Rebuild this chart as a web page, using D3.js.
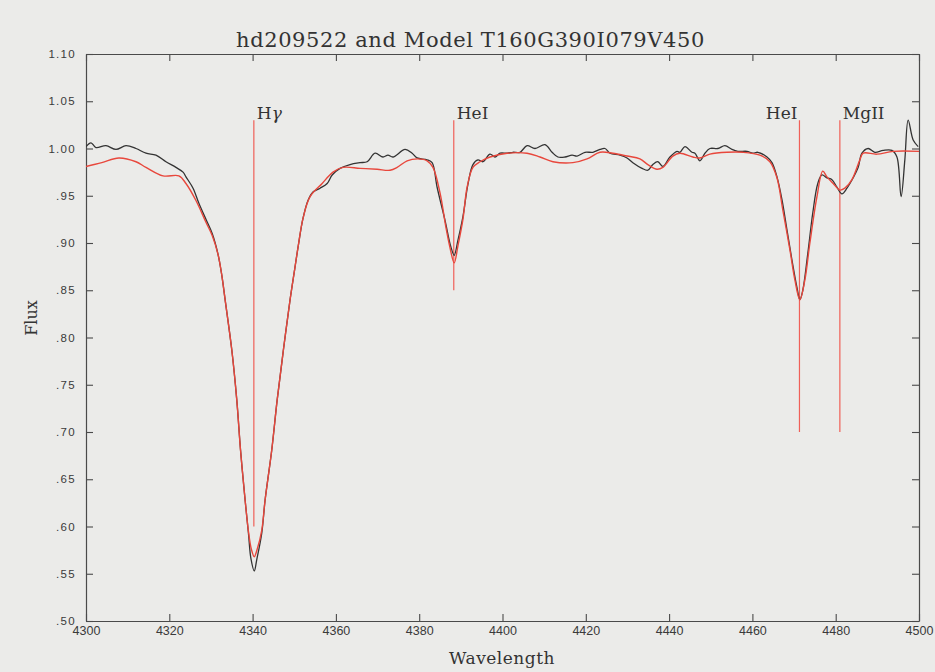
<!DOCTYPE html>
<html>
<head>
<meta charset="utf-8">
<script src="https://cdn.jsdelivr.net/npm/d3@7"></script>
<style>
  html, body { margin: 0; padding: 0; background: #ebebe9; }
  svg { display: block; }
</style>
</head>
<body>
<svg id="chart" width="935" height="672"></svg>
<script>
// Observed spectrum of hd209522: wavelength (Å) and normalised flux
const obsWave = [4300.0,4301.2,4302.4,4304.8,4307.2,4309.6,4312.0,4314.4,4316.8,4319.2,4321.6,4323.3,4324.0,4325.7,4327.1,
  4328.8,4330.3,4331.7,4332.6,4333.4,4335.0,4336.2,4337.1,4338.2,4339.0,4339.6,4340.4,4341.0,4342.2,4343.0,4344.6,4345.9,4347.4,4349.0,4350.1,4351.0,4352.1,
  4353.3,4354.5,4356.2,4357.9,4359.1,4361.0,4363.4,4365.8,4367.5,4369.4,4371.3,4372.5,4373.7,4376.6,4378.3,4379.5,4381.9,4383.1,
  4384.3,4386.2,4387.6,4388.4,4389.3,4390.5,4391.7,4392.9,4394.1,4395.3,4397.0,4398.2,4399.4,4401.1,4402.5,4404.2,4405.9,4407.8,
  4410.2,4411.9,4413.3,4415.0,4416.7,4417.9,4419.8,4421.7,4423.4,4424.6,4425.8,4428.2,4429.9,4431.3,4433.5,4434.9,4436.1,4437.3,
  4438.5,4440.2,4441.9,4442.6,4443.8,4445.5,4446.2,4447.4,4448.6,4449.8,4451.7,4453.4,4455.1,4456.5,4458.7,4460.1,4461.3,4463.5,
  4464.7,4465.9,4467.1,4468.3,4469.5,4470.7,4471.4,4472.1,4473.3,4474.5,4475.7,4476.7,4477.9,4479.1,4480.3,4481.5,4482.7,4484.2,
  4485.4,4486.3,4487.8,4489.4,4491.4,4493.5,4494.7,4495.7,4496.6,4497.4,4498.6,4499.8];
const obsFlux = [1.002,1.006,1.001,1.003,0.999,1.003,1.000,0.995,0.993,0.986,0.980,0.975,0.970,0.958,0.942,
  0.925,0.910,0.888,0.866,0.840,0.787,0.734,0.681,0.628,0.593,0.566,0.553,0.565,0.593,0.628,0.681,0.734,0.787,0.840,0.872,0.898,0.926,
  0.945,0.954,0.958,0.963,0.972,0.979,0.983,0.985,0.986,0.995,0.991,0.993,0.991,0.999,0.995,0.990,0.988,0.985,
  0.959,0.924,0.896,0.887,0.903,0.928,0.962,0.983,0.988,0.986,0.994,0.991,0.995,0.995,0.996,0.996,1.003,1.000,
  1.004,0.996,0.991,0.991,0.993,0.992,0.996,0.996,0.999,1.000,0.995,0.993,0.990,0.985,0.979,0.977,0.983,0.986,
  0.981,0.991,0.997,0.996,1.002,0.996,0.995,0.987,0.995,1.000,1.000,1.003,0.999,0.997,0.997,0.995,0.996,0.991,
  0.985,0.970,0.946,0.914,0.882,0.853,0.840,0.850,0.889,0.932,0.963,0.972,0.969,0.967,0.959,0.952,0.958,0.969,
  0.980,0.995,1.000,0.996,0.998,0.998,0.991,0.949,0.988,1.030,1.009,1.002];

// Model T160G390I079V450
const modWave = [4300.0,4303.8,4307.9,4312.0,4314.4,4318.5,4322.3,4324.0,4326.4,4328.8,4330.3,4331.7,4332.6,4333.4,4335.0,4336.2,4337.1,
  4338.2,4339.0,4339.7,4340.4,4341.1,4342.2,4343.0,4344.6,4345.9,4347.4,4349.0,4350.1,4351.0,4352.1,4353.8,4356.7,4359.3,4361.7,4365.8,4369.9,
  4373.0,4374.7,4377.1,4379.7,4381.9,4383.3,4385.0,4386.4,4387.4,4388.4,4389.3,4390.5,4391.5,4392.9,4394.6,4397.0,4401.1,4405.9,
  4409.0,4412.1,4416.9,4420.3,4423.4,4426.5,4429.9,4433.0,4434.9,4437.1,4438.5,4440.9,4442.6,4445.7,4447.4,4449.8,4453.9,4457.7,
  4461.8,4464.2,4465.9,4467.3,4469.0,4470.2,4471.4,4472.6,4473.8,4475.5,4476.9,4477.9,4479.4,4481.0,4482.2,4483.9,4485.8,4486.6,
  4489.9,4493.8,4500.0];
const modFlux = [0.981,0.985,0.990,0.986,0.980,0.971,0.971,0.963,0.945,0.922,0.908,0.888,0.866,0.840,0.787,0.734,0.681,
  0.628,0.595,0.576,0.568,0.576,0.596,0.628,0.681,0.734,0.787,0.840,0.872,0.898,0.926,0.949,0.963,0.975,0.980,0.979,0.978,
  0.977,0.980,0.987,0.989,0.987,0.980,0.953,0.917,0.895,0.879,0.897,0.925,0.959,0.980,0.986,0.991,0.995,0.995,
  0.991,0.986,0.985,0.989,0.996,0.995,0.992,0.989,0.983,0.978,0.980,0.992,0.995,0.991,0.990,0.994,0.996,0.996,
  0.993,0.986,0.969,0.935,0.893,0.861,0.840,0.861,0.900,0.949,0.976,0.970,0.963,0.956,0.958,0.967,0.988,0.995,
  0.994,0.997,0.997];

// Line identifications: label parts, wavelength, lower end of marker, label side
const lineNames = [["H", "\u03b3"], ["HeI"], ["HeI"], ["MgII"]];
const lineWave  = [4340.3, 4388.3, 4471.3, 4481.0];
const lineLow   = [0.60, 0.85, 0.70, 0.70];
const lineSide  = ["right", "right", "left", "right"];
const lineTop = 1.03;

const xTicks = [4300,4320,4340,4360,4380,4400,4420,4440,4460,4480,4500];
const yTicks = [0.50,0.55,0.60,0.65,0.70,0.75,0.80,0.85,0.90,0.95,1.00,1.05,1.10];
const yTickLabels = [".50",".55",".60",".65",".70",".75",".80",".85",".90",".95","1.00","1.05","1.10"];

const margin = {left: 86, right: 16, top: 54, bottom: 51};
const W = 935, H = 672;
const iw = W - margin.left - margin.right;
const ih = H - margin.top - margin.bottom;

const svg = d3.select("#chart");
const g = svg.append("g").attr("transform", `translate(${margin.left},${margin.top})`);

const x = d3.scaleLinear().domain([4300, 4500]).range([0, iw]);
const y = d3.scaleLinear().domain([0.50, 1.10]).range([ih, 0]);

const frameColor = "#4a4a4a";
const serif = "'DejaVu Serif', 'Liberation Serif', serif";

// axes with inward ticks on all four sides
const tickLen = 7;
const axB = g.append("g").attr("transform", `translate(0,${ih})`)
  .call(d3.axisBottom(x).tickValues(xTicks).tickSizeInner(-tickLen).tickSizeOuter(0).tickPadding(5).tickFormat(d3.format("d")));
const axT = g.append("g")
  .call(d3.axisTop(x).tickValues(xTicks).tickSizeInner(-tickLen).tickSizeOuter(0).tickFormat(""));
const axL = g.append("g")
  .call(d3.axisLeft(y).tickValues(yTicks).tickSizeInner(-tickLen).tickSizeOuter(0).tickPadding(10)
    .tickFormat((d, i) => yTickLabels[i]));
const axR = g.append("g").attr("transform", `translate(${iw},0)`)
  .call(d3.axisRight(y).tickValues(yTicks).tickSizeInner(-tickLen).tickSizeOuter(0).tickFormat(""));

[axB, axT, axL, axR].forEach(a => {
  a.selectAll(".domain").attr("stroke", frameColor).attr("stroke-width", 1.2);
  a.selectAll(".tick line").attr("stroke", frameColor).attr("stroke-width", 1.1);
  a.selectAll("text").attr("fill", "#3a3a3a");
});
axB.selectAll("text")
  .style("font-family", "'Liberation Sans Narrow', 'Arial Narrow', 'Liberation Sans', sans-serif")
  .style("font-size", "12.5px");
axL.selectAll("text")
  .style("font-family", "'Liberation Sans', Arial, sans-serif")
  .style("font-size", "11.5px")
  .style("letter-spacing", "1.3px");

// spectra
const line = d3.line().x(d => x(d[0])).y(d => y(d[1])).curve(d3.curveCatmullRom.alpha(0.5));
svg.append("defs").append("clipPath").attr("id", "plotclip")
  .append("rect").attr("width", iw).attr("height", ih);

const plot = g.append("g").attr("clip-path", "url(#plotclip)");

// identification markers
plot.selectAll(".idline").data(lineWave).join("line")
  .attr("class", "idline")
  .attr("x1", d => x(d)).attr("x2", d => x(d))
  .attr("y1", y(lineTop)).attr("y2", (d, i) => y(lineLow[i]))
  .attr("stroke", "#f06058").attr("stroke-width", 1.2);

plot.append("path")
  .datum(obsWave.map((w, i) => [w, obsFlux[i]]))
  .attr("fill", "none").attr("stroke", "#333333").attr("stroke-width", 1.3)
  .attr("d", line);

plot.append("path")
  .datum(modWave.map((w, i) => [w, modFlux[i]]))
  .attr("fill", "none").attr("stroke", "#e8473c").attr("stroke-width", 1.4)
  .attr("d", line);

const labels = g.selectAll(".idlabel").data(lineNames).join("text")
  .attr("class", "idlabel")
  .attr("x", (d, i) => x(lineWave[i]) + (lineSide[i] === "right" ? 3 : -2))
  .attr("y", y(lineTop) - 1)
  .attr("text-anchor", (d, i) => lineSide[i] === "right" ? "start" : "end")
  .style("font-family", serif).style("font-size", "17px")
  .attr("fill", "#333");
labels.selectAll("tspan").data(d => d).join("tspan")
  .style("font-style", (d, i) => i === 1 ? "italic" : "normal")
  .text(d => d);

// titles
svg.append("text")
  .attr("x", (margin.left + W - margin.right) / 2 - 32).attr("y", 47)
  .attr("text-anchor", "middle")
  .style("font-family", serif).style("font-size", "21px").style("letter-spacing", "0.6px")
  .attr("fill", "#333")
  .text("hd209522 and Model T160G390I079V450");

svg.append("text")
  .attr("x", 502).attr("y", 664)
  .attr("text-anchor", "middle")
  .style("font-family", serif).style("font-size", "17px").style("letter-spacing", "0.5px")
  .attr("fill", "#333")
  .text("Wavelength");

svg.append("text")
  .attr("transform", "translate(37,318) rotate(-90)")
  .attr("text-anchor", "middle")
  .style("font-family", serif).style("font-size", "16px")
  .attr("fill", "#333")
  .text("Flux");
</script>
</body>
</html>
